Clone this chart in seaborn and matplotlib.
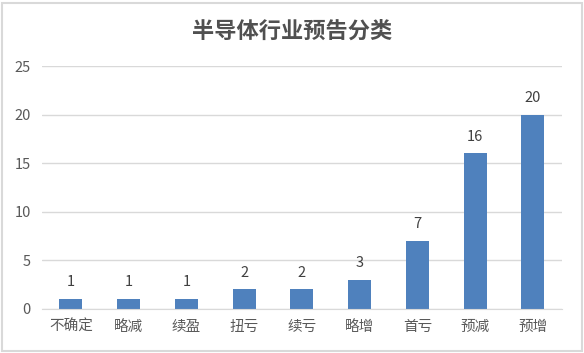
import matplotlib
matplotlib.use("Agg")
import matplotlib.pyplot as plt
import seaborn as sns
import pandas as pd
from matplotlib.patches import Rectangle

categories = ["不确定", "略减", "续盈", "扭亏", "续亏", "略增", "首亏", "预减", "预增"]
counts = [1, 1, 1, 2, 2, 3, 7, 16, 20]
yticks = [0, 5, 10, 15, 20, 25]

sns.set_style("white")
plt.rcParams['font.family'] = ['Noto Sans CJK SC', 'DejaVu Sans']

df = pd.DataFrame({"类别": categories, "数量": counts})

fig = plt.figure(figsize=(5.84, 3.53), dpi=100)
ax = fig.add_axes([0.072, 0.125, 0.89, 0.688])

sns.barplot(data=df, x="类别", y="数量", color="#4f81bd", saturation=1,
            width=0.4, linewidth=0, ax=ax)

for i, v in enumerate(counts):
    ax.text(i, v + 1.0, str(v), ha="center", va="bottom", fontsize=10.5, color="#404040")

ax.set_ylim(0, 25)
ax.set_xlim(-0.5, len(categories) - 0.5)
ax.set_yticks(yticks)
ax.yaxis.grid(True, color="#d9d9d9", linewidth=1)
ax.set_axisbelow(True)
for s in ["top", "right", "left"]:
    ax.spines[s].set_visible(False)
ax.spines["bottom"].set_color("#d9d9d9")
ax.tick_params(axis="both", length=0, labelsize=10.5, colors="#595959")
ax.tick_params(axis="y", pad=8)
ax.tick_params(axis="x", pad=8)
ax.set_xlabel("")
ax.set_ylabel("")

fig.text(0.5, 0.912, "半导体行业预告分类", ha="center", va="center",
         fontsize=16, fontweight="bold", color="#505050")

fig.patches.append(Rectangle((0.004, 0.006), 0.992, 0.986, transform=fig.transFigure,
                             fill=False, edgecolor="#d9d9d9", linewidth=1.5))

fig.savefig("out.png", dpi=100)
